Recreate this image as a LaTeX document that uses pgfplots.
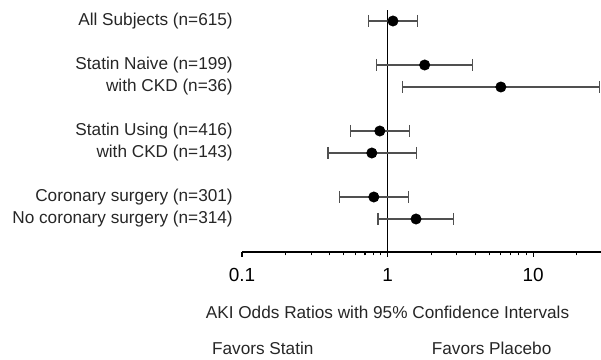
\documentclass[border=0pt]{standalone}
\usepackage{fontspec}
\setmainfont{Liberation Sans}
\usepackage{pgfplots}
\pgfplotsset{compat=1.18}
\definecolor{cibar}{HTML}{505050}
\begin{document}
\begin{tikzpicture}[lab/.style={font=\fontsize{12.9}{15}\selectfont, text=black!85, anchor=east, inner sep=0pt}]
\begin{axis}[
  name=ax,
  at={(0,0)}, anchor=south west,
  scale only axis,
  width=269.25pt, height=181.5pt,
  xmode=log, log basis x=10,
  xmin=0.1, xmax=29.3,
  ymin=-10.5, ymax=0.5,
  clip=false,
  axis x line=bottom,
  axis y line=none,
  axis line style={-, black, line width=0.8pt},
  tick align=outside,
  xtick={0.1,1,10},
  xticklabels={0.1,1,10},
  minor xtick={0.2,0.3,0.4,0.5,0.6,0.7,0.8,0.9,2,3,4,5,6,7,8,9,20},
  xmajorticks=true, xminorticks=true,
  major tick length=3.75pt,
  minor tick length=2.6pt,
  every tick/.append style={black, line width=0.8pt},
  xticklabel style={font=\fontsize{14.2}{17}\selectfont, inner sep=0pt, yshift=-8.25pt},
  /pgf/number format/assume math mode=true,
]
% reference line at OR = 1
\addplot[black, line width=0.8pt, mark=none] coordinates {(1,-10.5) (1,0.5)};
% confidence intervals
\addplot[cibar, line width=0.8pt, mark=|, mark size=4.6pt] coordinates {(0.74,0) (1.61,0)};
\addplot[cibar, line width=0.8pt, mark=|, mark size=4.6pt] coordinates {(0.84,-2) (3.82,-2)};
\addplot[cibar, line width=0.8pt, mark=|, mark size=4.6pt] coordinates {(1.27,-3) (28.6,-3)};
\addplot[cibar, line width=0.8pt, mark=|, mark size=4.6pt] coordinates {(0.56,-5) (1.42,-5)};
\addplot[cibar, line width=0.8pt, mark=|, mark size=4.6pt] coordinates {(0.39,-6) (1.59,-6)};
\addplot[cibar, line width=0.8pt, mark=|, mark size=4.6pt] coordinates {(0.47,-8) (1.39,-8)};
\addplot[cibar, line width=0.8pt, mark=|, mark size=4.6pt] coordinates {(0.86,-9) (2.86,-9)};
% odds ratios
\addplot[only marks, mark=*, mark size=3.9pt, black] coordinates {
  (1.09,0) (1.80,-2) (6.01,-3) (0.885,-5) (0.78,-6) (0.805,-8) (1.57,-9)
};
% row labels
\node[lab] at ([xshift=-6.75pt]axis cs:0.1,0) {All Subjects (n=615)};
\node[lab] at ([xshift=-6.75pt]axis cs:0.1,-2) {Statin Naive (n=199)};
\node[lab] at ([xshift=-6.75pt]axis cs:0.1,-3) {with CKD (n=36)};
\node[lab] at ([xshift=-6.75pt]axis cs:0.1,-5) {Statin Using (n=416)};
\node[lab] at ([xshift=-6.75pt]axis cs:0.1,-6) {with CKD (n=143)};
\node[lab] at ([xshift=-6.75pt]axis cs:0.1,-8) {Coronary surgery (n=301)};
\node[lab] at ([xshift=-6.75pt]axis cs:0.1,-9) {No coronary surgery (n=314)};
\node[font=\fontsize{12.9}{15}\selectfont, text=black!85] at (axis cs:1,-13.23) {AKI Odds Ratios with 95\% Confidence Intervals};
\node[font=\fontsize{12.9}{15}\selectfont, text=black!85] at (axis cs:0.139,-14.86) {Favors Statin};
\node[font=\fontsize{12.9}{15}\selectfont, text=black!85] at (axis cs:5.19,-14.86) {Favors Placebo};
\end{axis}
\pgfresetboundingbox
\path (ax.south west) ++(-181.5pt,-81pt) rectangle ++(450.75pt,270pt);
\end{tikzpicture}
\end{document}
